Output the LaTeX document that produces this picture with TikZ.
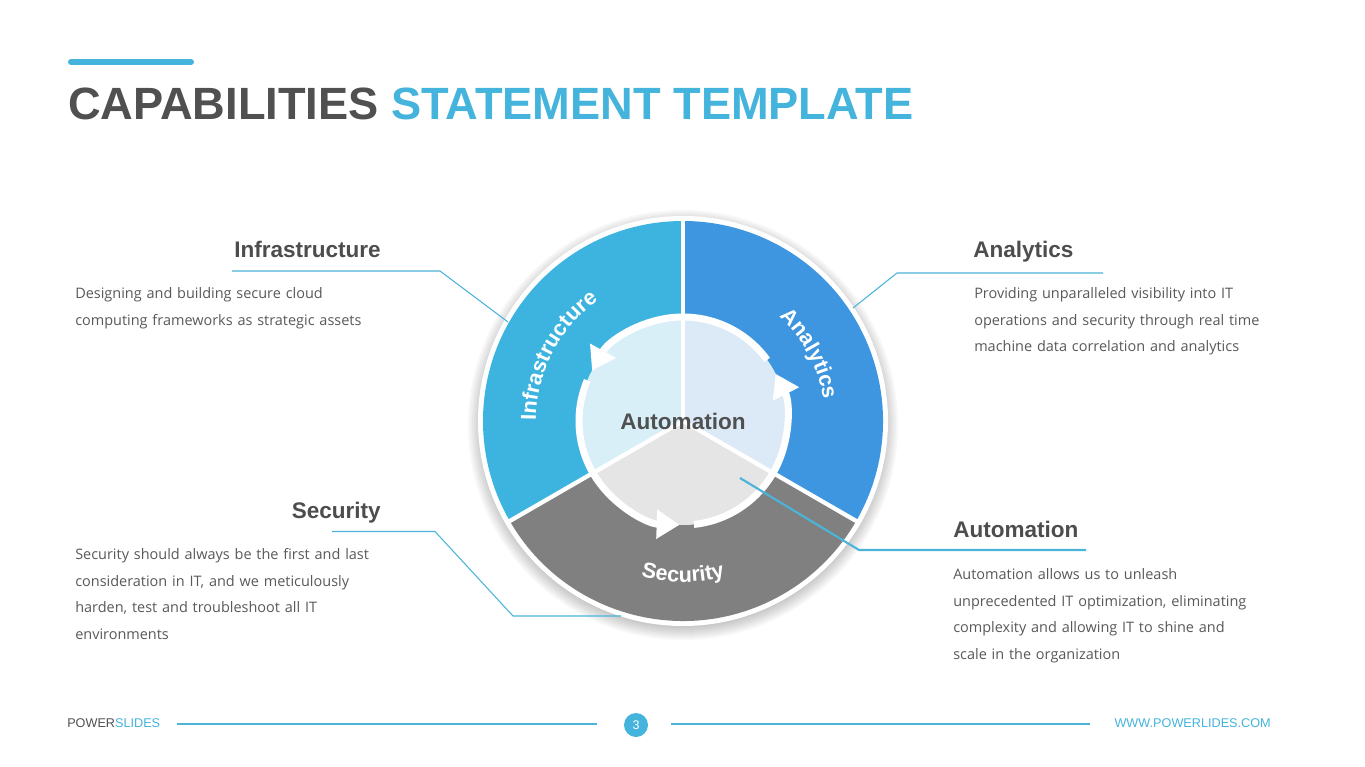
\documentclass[tikz,border=0pt]{standalone}
\usepackage{fontspec}
\setmainfont{Liberation Sans}
\newfontfamily\bodyfont{Open Sans}
\usetikzlibrary{arrows.meta,decorations.text}
\definecolor{titlegray}{HTML}{505050}
\definecolor{titleblue}{HTML}{44B4DC}
\definecolor{headgray}{HTML}{4D4D4D}
\definecolor{descgray}{HTML}{595959}
\definecolor{lineblue}{HTML}{4BB4D8}
\definecolor{infra}{HTML}{3DB4E0}
\definecolor{analy}{HTML}{3E96E0}
\definecolor{secur}{HTML}{808080}
\definecolor{infraL}{HTML}{D8EFF8}
\definecolor{analyL}{HTML}{DCEAF8}
\definecolor{securL}{HTML}{E5E5E5}
\newcommand{\segfont}{\fontsize{16.2pt}{18pt}\selectfont\bfseries}
\begin{document}
\begin{tikzpicture}[x=0.75pt,y=-0.75pt,
  head/.style={font=\fontsize{16.9pt}{20pt}\selectfont\bfseries, text=headgray, inner sep=0pt},
  desc/.style={font=\bodyfont\fontsize{10.85pt}{19.9pt}\selectfont, text=descgray, inner sep=0pt, text width=260pt, align=left},
  callout/.style={draw=lineblue, line width=0.8pt},
  ring/.style={draw=white, line width=5.25pt, -{Triangle[length=17pt,width=21pt]}},
  divider/.style={draw=white, line width=3.2pt},
  foot/.style={font=\fontsize{9.5pt}{11pt}\selectfont, inner sep=0pt},
  footline/.style={draw=lineblue, line width=0.8pt}
]
\useasboundingbox (0,0) rectangle (1365,767);
\fill[white] (0,0) rectangle (1365,767);

% title
\draw[titleblue, line width=4.5pt, line cap=round] (71,62) -- (191,62);
\node[anchor=base west, inner sep=0pt, font=\fontsize{33.9pt}{40pt}\selectfont\bfseries] (title) at (68,119)
  {\textcolor{titlegray}{CAPABILITIES} \textcolor{titleblue}{STATEMENT TEMPLATE}};

% circle diagram
\begin{scope}[shift={(683,421)}, y={(0pt,0.75pt)}]
  \foreach \r in {203,205,...,215} \fill[black, opacity=0.03] (0,-4) circle[radius=\r];
  \fill[white] (0,0) circle[radius=205];
  \fill[infra] (0,0) -- (90:200) arc[start angle=90, end angle=210, radius=200] -- cycle;
  \fill[analy] (0,0) -- (-30:200) arc[start angle=-30, end angle=90, radius=200] -- cycle;
  \fill[secur] (0,0) -- (210:200) arc[start angle=210, end angle=330, radius=200] -- cycle;
  \fill[infraL] (0,0) -- (90:104) arc[start angle=90, end angle=210, radius=104] -- cycle;
  \fill[analyL] (0,0) -- (-30:104) arc[start angle=-30, end angle=90, radius=104] -- cycle;
  \fill[securL] (0,0) -- (210:104) arc[start angle=210, end angle=330, radius=104] -- cycle;
  \foreach \a in {90,210,330} \draw[divider] (0,0) -- (\a:201);
  \draw[ring] (36:104) arc[start angle=36, end angle=151, radius=104];
  \draw[ring] (157:104) arc[start angle=157, end angle=268, radius=104];
  \draw[ring] (276:104) arc[start angle=276, end angle=387, radius=104];
  \node[head, text=titlegray] (autoC) at (0,0) {Automation};
  \path[decorate, decoration={text along path, text color=white, text align=center,
      text={|\segfont|Infrastructure}}]
    (192.5:147) arc[start angle=192.5, end angle=112.5, radius=147];
  \path[decorate, decoration={text along path, text color=white, text align=center,
      text={|\segfont|Analytics}}]
    (70:142) arc[start angle=70, end angle=-14, radius=142];
  \path[decorate, decoration={text along path, text color=white, text align=center,
      text={|\segfont|Security}}]
    (235:161) arc[start angle=235, end angle=305, radius=161];
\end{scope}

% callout coordinates
\coordinate (infraP) at (508,322);
\coordinate (infraK) at (440,271);
\coordinate (infraE) at (232,271);
\coordinate (analyP) at (853,308);
\coordinate (analyK) at (897,273);
\coordinate (analyE) at (1103,273);
\coordinate (securP) at (621,616);
\coordinate (securK) at (513,616);
\coordinate (securJ) at (435,531.5);
\coordinate (securE) at (332,531.5);
\coordinate (autoP) at (740,478);
\coordinate (autoK) at (859,550);
\coordinate (autoE) at (1086,550);

\draw[callout] (infraP) -- (infraK) -- (infraE);
\draw[callout] (analyP) -- (analyK) -- (analyE);
\draw[callout] (securP) -- (securK) -- (securJ) -- (securE);
\draw[callout, line width=1.6pt] (autoP) -- (autoK) -- (autoE);

% headings
\node[head, anchor=base west] (hInfra) at (234,257) {Infrastructure};
\node[head, anchor=base west] (hAnaly) at (973,257) {Analytics};
\node[head, anchor=base east] (hSecur) at (381,518) {Security};
\node[head, anchor=base west] (hAuto) at (953,537) {Automation};

% descriptions
\node[desc, anchor=base west] (dInfra) at (75,298.5)
  {Designing and building secure cloud\\computing frameworks as strategic assets};
\node[desc, anchor=base west] (dAnaly) at (974,298.5)
  {Providing unparalleled visibility into IT\\operations and security through real time\\machine data correlation and analytics};
\node[desc, anchor=base west] (dSecur) at (75,559.5)
  {Security should always be the first and last\\consideration in IT, and we meticulously\\harden, test and troubleshoot all IT\\environments};
\node[desc, anchor=base west] (dAuto) at (953,579.5)
  {Automation allows us to unleash\\unprecedented IT optimization, eliminating\\complexity and allowing IT to shine and\\scale in the organization};

% footer
\node[foot, anchor=base west] (brand) at (67,727.5) {\textcolor{titlegray}{POWER}\textcolor{titleblue}{SLIDES}};
\node[circle, fill=titleblue, text=white, minimum size=18pt, inner sep=0pt, font=\fontsize{9.4pt}{11pt}\selectfont] (pg) at (636,725) {3};
\node[foot, anchor=base east, text=titleblue] (url) at (1271,727.5) {WWW.POWERLIDES.COM};
\draw[footline] (177,724) -- (597,724);
\draw[footline] (671,724) -- (1090,724);
\end{tikzpicture}
\end{document}
